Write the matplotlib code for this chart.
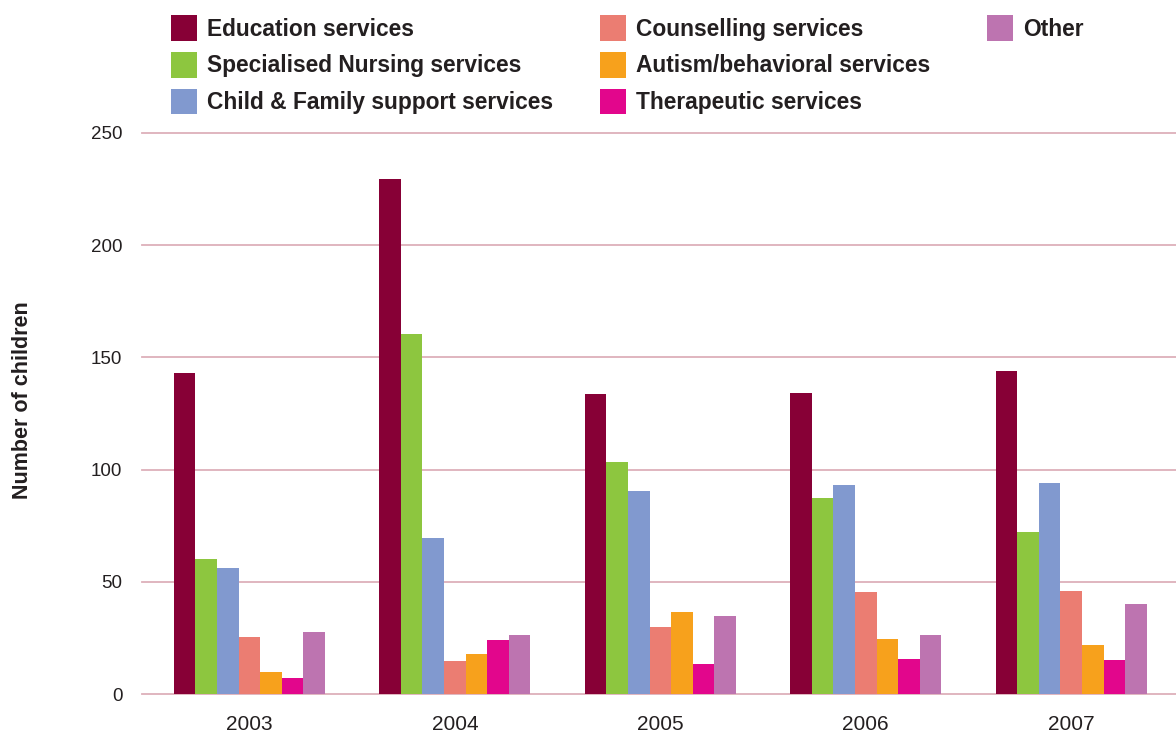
import matplotlib
matplotlib.use("Agg")
import matplotlib.pyplot as plt
import numpy as np

plt.rcParams['font.family'] = ['Liberation Sans', 'DejaVu Sans']

# data
years = ['2003', '2004', '2005', '2006', '2007']
series_names = [
    'Education services',
    'Specialised Nursing services',
    'Child & Family support services',
    'Counselling services',
    'Autism/behavioral services',
    'Therapeutic services',
    'Other',
]
education = [143, 229.5, 133.7, 134.1, 143.9]
nursing = [60, 160.4, 103.4, 87.3, 72.2]
child_family = [56, 69.5, 90.5, 93.1, 94]
counselling = [25.4, 14.7, 29.9, 45.5, 45.9]
autism = [9.8, 17.8, 36.5, 24.5, 21.8]
therapeutic = [7.1, 24, 13.4, 15.6, 15.2]
other = [27.6, 26.3, 34.8, 26.3, 40.1]

colors = ['#870036', '#8DC63F', '#8199CF', '#EB7D72', '#F7A11C', '#E2068C', '#BD74B0']


def main():
    fig = plt.figure(figsize=(11.76, 7.38), dpi=100)
    ax = fig.add_axes([0.1207, 0.0596, 0.8793, 0.7602])

    all_series = [education, nursing, child_family, counselling, autism, therapeutic, other]
    x = np.arange(len(years))
    w = 0.105
    handles = []
    for i, (vals, name, c) in enumerate(zip(all_series, series_names, colors)):
        b = ax.bar(x + (i - 3) * w, vals, width=w, color=c, label=name, zorder=3)
        handles.append(b)

    # gridlines
    for yv in range(0, 251, 50):
        ax.axhline(yv, color='#DDB0BA', lw=1.3, zorder=1, clip_on=False)

    ax.set_xlim(-0.523, 4.51)
    ax.set_ylim(0, 250)
    ax.set_xticks(x)
    ax.set_xticklabels(years)
    ax.set_yticks(range(0, 251, 50))
    ax.tick_params(axis='both', length=0, labelcolor='#231F20')
    ax.tick_params(axis='x', pad=15, labelsize=15)
    ax.tick_params(axis='y', pad=14, labelsize=13.5)
    for s in ax.spines.values():
        s.set_visible(False)

    fig.text(0.019, 0.458, 'Number of children', rotation=90, ha='center', va='center',
             fontsize=15.5, fontweight='bold', color='#231F20')

    leg_kw = dict(loc='upper left', frameon=False, borderpad=0, borderaxespad=0,
                  prop={'weight': 'bold', 'size': 16.4}, handlelength=1.14,
                  handleheight=1.37, handletextpad=0.44, labelspacing=0.48,
                  labelcolor='#231F20')
    # first two legend columns
    fig.legend(handles[:6], series_names[:6], bbox_to_anchor=(0.1454, 0.9797),
               ncol=2, columnspacing=2.05, **leg_kw)
    # third column ("Other")
    fig.legend(handles[6:], series_names[6:], bbox_to_anchor=(0.8393, 0.9797), **leg_kw)

    fig.savefig('out.png', dpi=100)


if __name__ == "__main__":
    main()
